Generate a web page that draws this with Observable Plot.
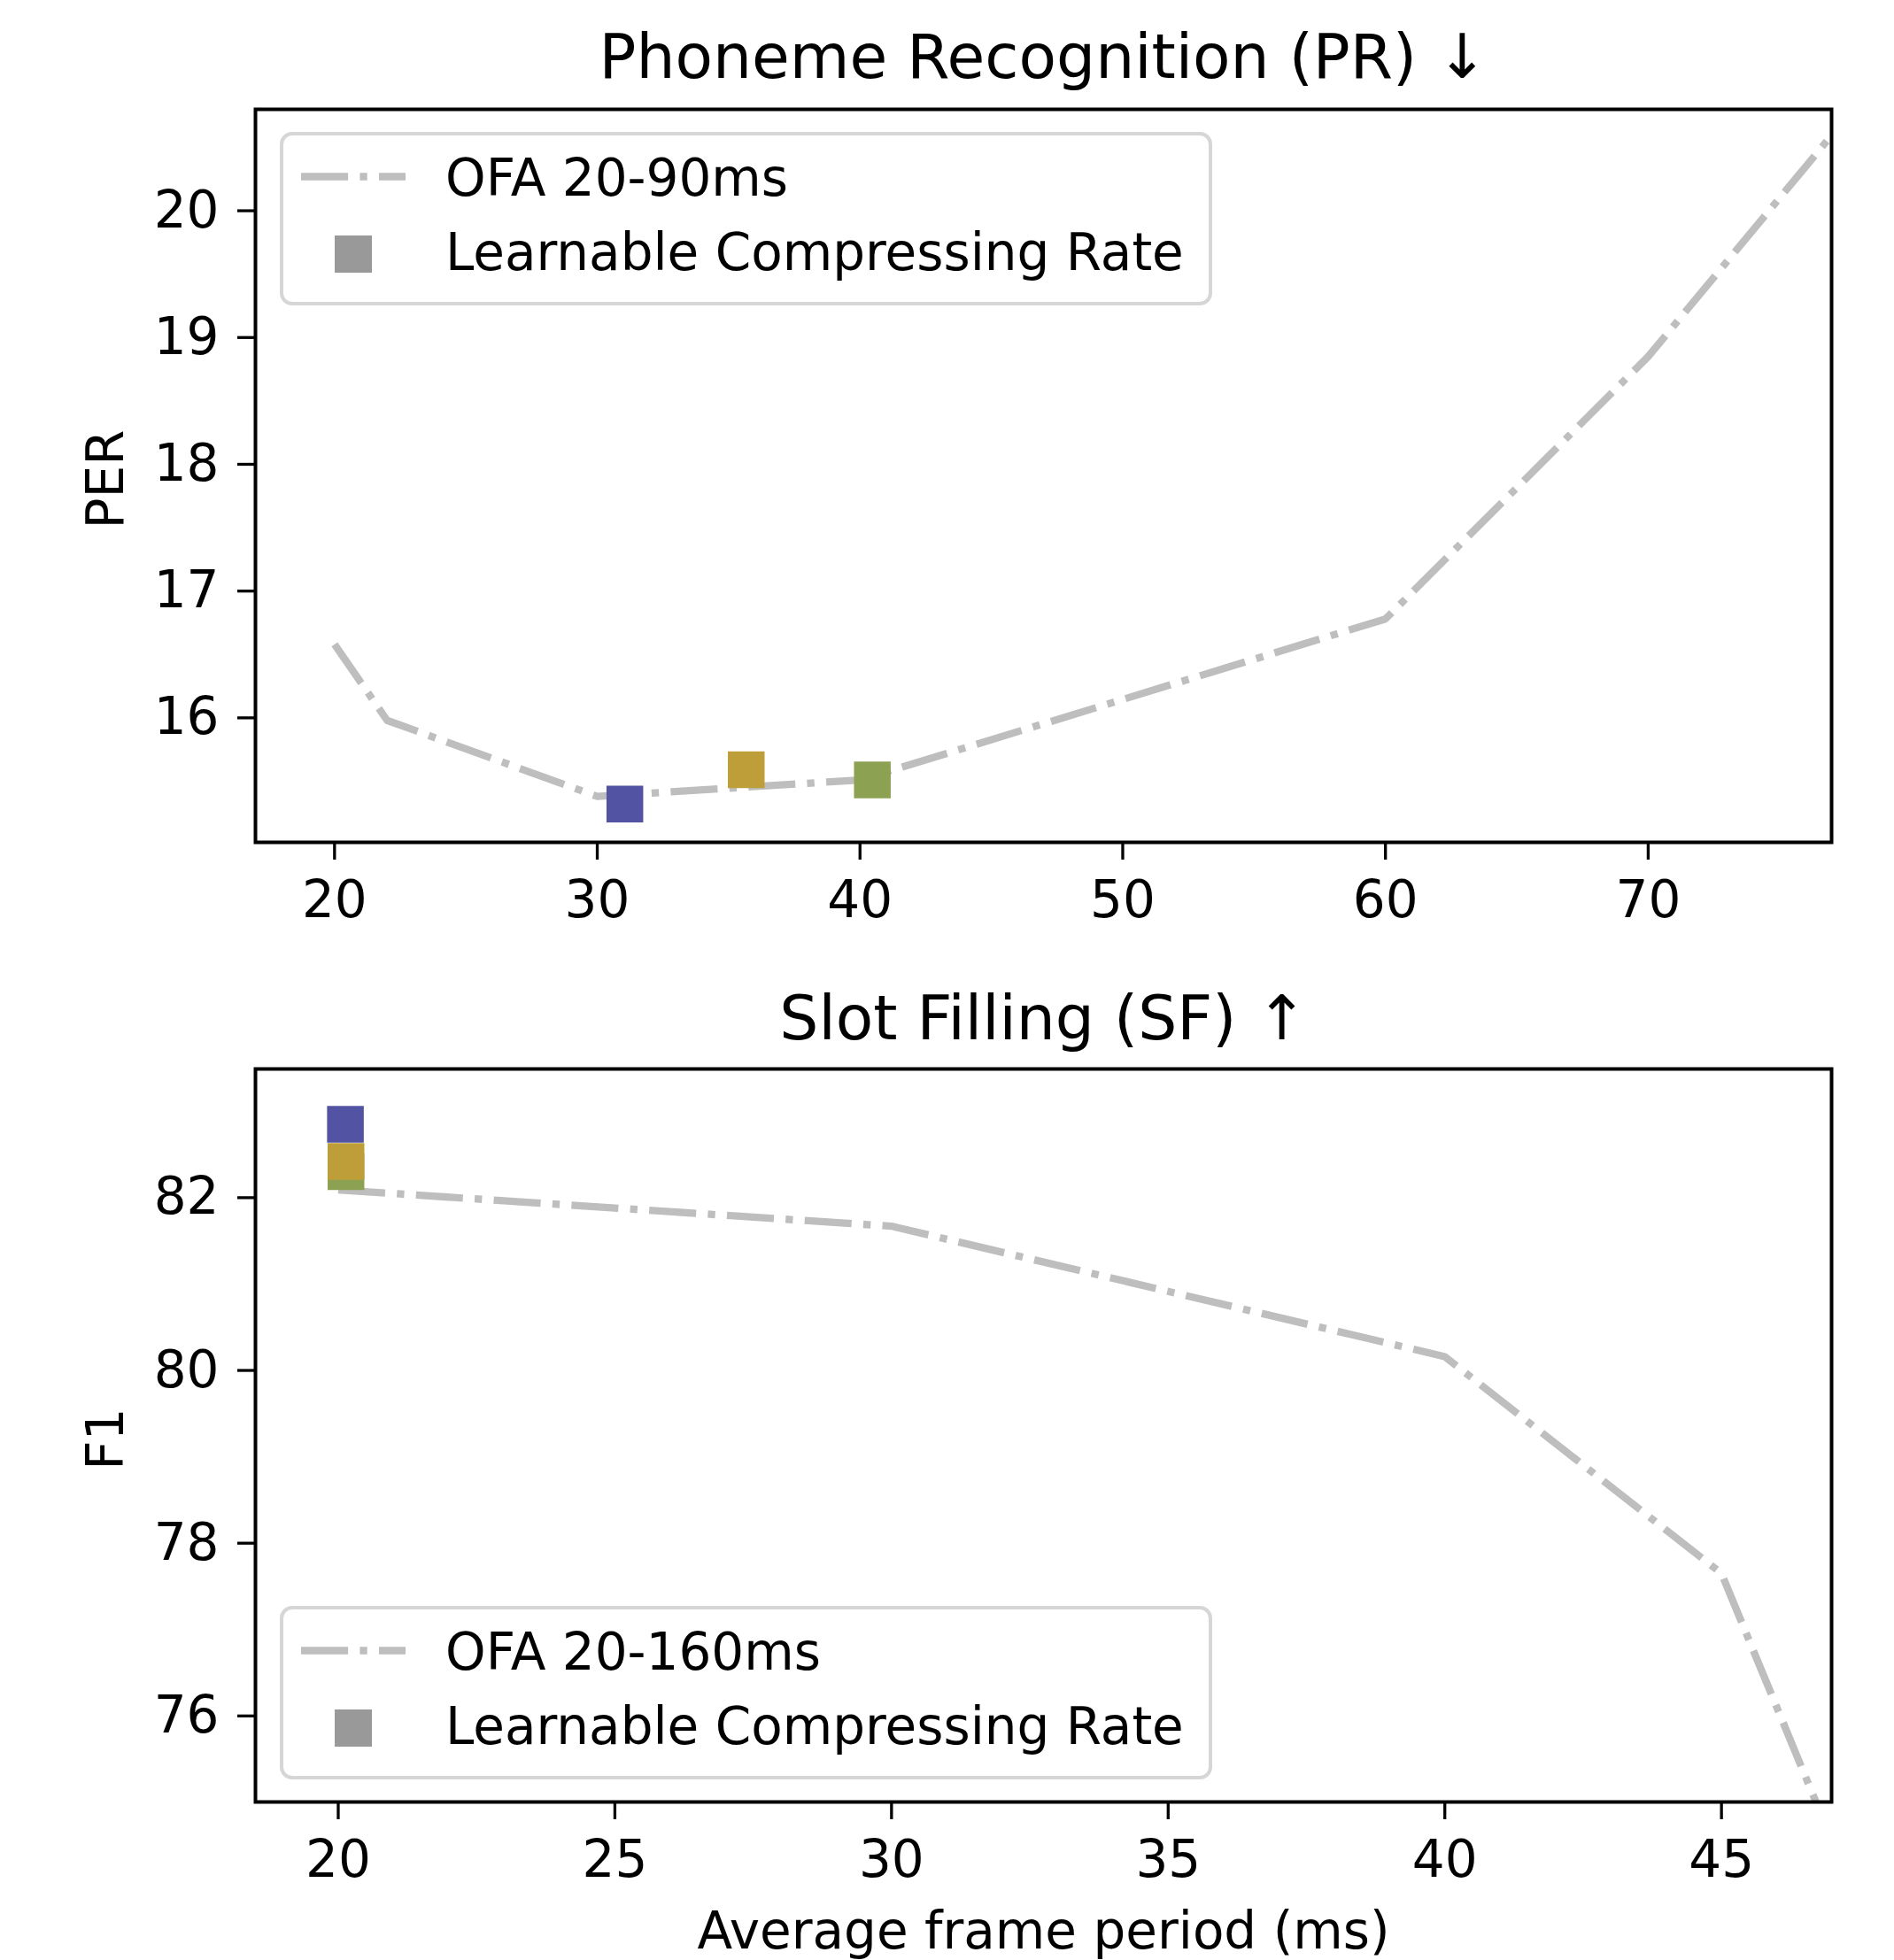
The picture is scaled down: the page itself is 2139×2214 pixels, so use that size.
<!DOCTYPE html>
<html>
<head>
<meta charset="utf-8">
<script src="https://cdn.jsdelivr.net/npm/d3@7"></script>
<script src="https://cdn.jsdelivr.net/npm/@observablehq/plot@0.6"></script>
<style>
  html, body { margin: 0; padding: 0; background: white; overflow: hidden; }
  #root { width: 2139px; height: 2214px; position: relative; background: white; }
  #root svg { display: block; }
</style>
</head>
<body>
<div id="root"></div>
<script>
// ---------------- data ----------------
const titles = ["Phoneme Recognition (PR) ↓", "Slot Filling (SF) ↑"];
const yLabels = ["PER", "F1"];
const xLabel = "Average frame period (ms)";
const legendLineLabels = ["OFA 20-90ms", "OFA 20-160ms"];
const legendMarkerLabel = "Learnable Compressing Rate";

// OFA baseline (Phoneme Recognition)
const prOfaPeriod = [20, 22, 30, 40, 60, 70, 80];
const prOfaPER    = [16.58, 15.98, 15.38, 15.51, 16.78, 18.85, 21.35];
// OFA baseline (Slot Filling)
const sfOfaPeriod = [20, 30, 40, 45, 50];
const sfOfaF1     = [82.09, 81.67, 80.16, 77.65, 69.9];

// Learnable compressing rate runs
const runs = ["run 1", "run 2", "run 3"];
const prRunPeriod = [31.05, 35.67, 40.47];
const prRunPER    = [15.32, 15.59, 15.51];
const sfRunPeriod = [20.13, 20.14, 20.14];
const sfRunF1     = [82.85, 82.42, 82.30];

// tick values
const prXTicks = [20, 30, 40, 50, 60, 70];
const prYTicks = [16, 17, 18, 19, 20];
const sfXTicks = [20, 25, 30, 35, 40, 45];
const sfYTicks = [76, 78, 80, 82];

// ---------------- styling ----------------
const FONT = "DejaVu Sans";
const FS = 58;
const TITLE_FS = 69.5;
const runColors = ["#5254a3", "#bd9e39", "#8ca252"];
const lineColor = "#bebebe";
const LW = 8.3;
const dash = [6.4 * LW, 1.6 * LW, 1 * LW, 1.6 * LW].join(",");
const W = 2139;
const fmt = d => `${d}`;

const prLine = prOfaPeriod.map((x, i) => ({x, y: prOfaPER[i]}));
const sfLine = sfOfaPeriod.map((x, i) => ({x, y: sfOfaF1[i]}));
const prRuns = runs.map((r, i) => ({run: r, x: prRunPeriod[i], y: prRunPER[i]}));
// drawing order as in the figure (blue, green, then gold on top)
const sfRuns = [0, 2, 1].map(i => ({run: runs[i], x: sfRunPeriod[i], y: sfRunF1[i]}));

function panel({height, marginTop, marginBottom, xDomain, yDomain, xTicks, yTicks, line, pts, title, yLabel, xLab, titleDy}) {
  const marks = [
    Plot.line(line, {x: "x", y: "y", stroke: lineColor, strokeWidth: LW,
      strokeDasharray: dash, strokeLinecap: "butt", strokeLinejoin: "round", clip: true}),
    Plot.dot(pts, {x: "x", y: "y", fill: "run", symbol: "square", r: 23.4}),
    Plot.frame({stroke: "black", strokeWidth: 4}),
    Plot.axisX(xTicks, {anchor: "bottom", tickSize: 20, tickPadding: 23, strokeWidth: 3.3,
      fontSize: FS, label: null, tickFormat: fmt}),
    Plot.axisY(yTicks, {anchor: "left", tickSize: 20, tickPadding: 21, strokeWidth: 3.3,
      fontSize: FS, label: null, tickFormat: fmt}),
    Plot.text([title], {frameAnchor: "top", textAnchor: "middle", lineAnchor: "bottom", dy: titleDy, fontSize: TITLE_FS}),
    Plot.text([yLabel], {frameAnchor: "left", textAnchor: "middle", lineAnchor: "middle", rotate: -90, dx: -168, dy: 4, fontSize: FS})
  ];
  if (xLab) marks.push(Plot.text([xLab], {frameAnchor: "bottom", textAnchor: "middle", lineAnchor: "bottom", dy: 165, fontSize: FS}));
  return Plot.plot({
    width: W,
    height,
    marginLeft: 288,
    marginRight: 71,
    marginTop,
    marginBottom,
    x: {domain: xDomain},
    y: {domain: yDomain},
    color: {domain: runs, range: runColors},
    style: {fontFamily: FONT, fontSize: FS + "px", background: "white", overflow: "visible", color: "black"},
    marks
  });
}

function addLegend(svg, top, lineLabel) {
  const g = d3.select(svg).append("g")
    .attr("font-family", FONT).attr("font-size", FS).attr("fill", "black")
    .attr("text-anchor", "start");
  g.append("rect").attr("x", 318).attr("y", top).attr("width", 1049).attr("height", 192)
    .attr("rx", 12).attr("fill", "white").attr("fill-opacity", 0.8)
    .attr("stroke", "#d6d6d6").attr("stroke-width", 4);
  g.append("line").attr("x1", 340).attr("x2", 458).attr("y1", top + 48.5).attr("y2", top + 48.5)
    .attr("stroke", lineColor).attr("stroke-width", LW).attr("stroke-dasharray", dash);
  g.append("text").attr("x", 503).attr("y", top + 70).attr("text-anchor", "start").text(lineLabel);
  g.append("rect").attr("x", 378).attr("y", top + 115).attr("width", 42).attr("height", 42)
    .attr("fill", "#999999");
  g.append("text").attr("x", 503).attr("y", top + 154).attr("text-anchor", "start").text(legendMarkerLabel);
}

const topSvg = panel({
  height: 1100, marginTop: 123, marginBottom: 149,
  xDomain: [16.99, 76.98], yDomain: [15.018, 20.80],
  xTicks: prXTicks, yTicks: prYTicks, line: prLine, pts: prRuns,
  title: titles[0], yLabel: yLabels[0], xLab: null, titleDy: -36
});
addLegend(topSvg, 151, legendLineLabels[0]);

const botSvg = panel({
  height: 1114, marginTop: 107, marginBottom: 179,
  xDomain: [18.504, 46.99], yDomain: [75.004, 83.49],
  xTicks: sfXTicks, yTicks: sfYTicks, line: sfLine, pts: sfRuns,
  title: titles[1], yLabel: yLabels[1], xLab: xLabel, titleDy: -34
});
addLegend(botSvg, 716, legendLineLabels[1]);

const root = document.getElementById("root");
root.appendChild(topSvg);
root.appendChild(botSvg);
</script>
</body>
</html>
